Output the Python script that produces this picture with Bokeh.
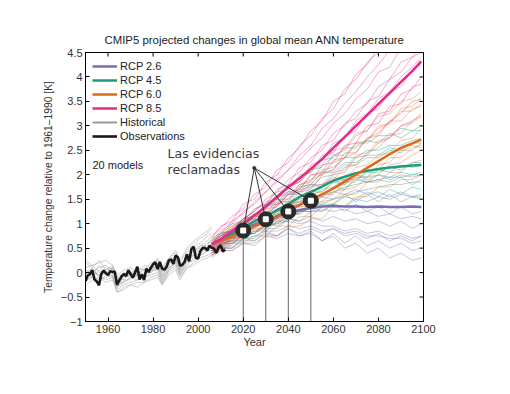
import math
from bokeh.plotting import figure
from bokeh.models import Range1d, LinearAxis, FixedTicker, Legend, LegendItem, Label
from bokeh.embed import file_html
from bokeh.resources import INLINE

# ---------------- data ----------------
obs_years = list(range(1950, 2013))
obs_values = [-0.17, -0.06, -0.03, 0.05, -0.14, -0.18, -0.26, -0.03, 0.04, -0.01,
              -0.05, 0.03, 0.01, 0.02, -0.25, -0.16, -0.08, -0.03, -0.07, 0.05,
              -0.03, -0.10, 0.00, 0.12, -0.14, -0.04, -0.15, 0.08, 0.01, 0.10,
              0.17, 0.21, 0.07, 0.22, 0.08, 0.06, 0.12, 0.25, 0.27, 0.18,
              0.35, 0.31, 0.14, 0.16, 0.22, 0.37, 0.23, 0.48, 0.53, 0.30,
              0.29, 0.44, 0.50, 0.51, 0.45, 0.55, 0.51, 0.49, 0.40, 0.51,
              0.56, 0.43, 0.47]

hist_years = [1950, 1953, 1956, 1959, 1962, 1964, 1967, 1970, 1973, 1976, 1979,
              1982, 1984, 1987, 1990, 1992, 1995, 1998, 2001, 2004, 2006]
hist_members = [
    [-0.10, 0.05, -0.05, 0.10, 0.00, -0.25, -0.10, -0.05, -0.10, 0.00, 0.05, 0.15, -0.05, 0.15, 0.30, 0.10, 0.35, 0.45, 0.50, 0.60, 0.65],
    [0.20, 0.10, 0.25, 0.05, 0.10, -0.15, -0.05, 0.00, 0.05, -0.05, 0.10, 0.20, 0.00, 0.25, 0.35, 0.05, 0.40, 0.55, 0.60, 0.75, 0.80],
    [-0.20, -0.05, -0.15, -0.10, -0.05, -0.35, -0.25, -0.20, -0.15, -0.10, -0.05, 0.00, -0.20, 0.05, 0.15, -0.05, 0.20, 0.25, 0.35, 0.45, 0.45],
    [0.00, -0.10, 0.05, -0.05, 0.05, -0.20, -0.20, -0.10, 0.00, -0.05, 0.10, 0.10, -0.10, 0.10, 0.25, 0.00, 0.25, 0.40, 0.45, 0.50, 0.55],
    [0.10, 0.15, 0.00, 0.05, 0.15, -0.10, 0.00, -0.05, 0.10, 0.05, 0.20, 0.25, 0.05, 0.30, 0.40, 0.20, 0.45, 0.60, 0.70, 0.80, 0.90],
    [-0.15, -0.10, -0.20, -0.05, -0.10, -0.40, -0.30, -0.25, -0.20, -0.20, -0.10, -0.05, -0.25, 0.00, 0.10, -0.10, 0.10, 0.20, 0.30, 0.35, 0.40],
    [0.05, 0.00, 0.10, 0.15, 0.05, -0.10, -0.15, 0.00, -0.05, 0.10, 0.05, 0.20, 0.00, 0.20, 0.25, 0.15, 0.30, 0.35, 0.55, 0.55, 0.70],
    [-0.05, 0.10, -0.10, 0.00, -0.05, -0.30, -0.15, -0.15, -0.05, -0.10, 0.00, 0.10, -0.15, 0.10, 0.20, 0.00, 0.25, 0.35, 0.40, 0.50, 0.60],
    [0.25, 0.15, 0.20, 0.25, 0.15, -0.05, 0.05, 0.10, 0.00, 0.15, 0.10, 0.30, 0.10, 0.30, 0.45, 0.25, 0.50, 0.65, 0.75, 0.85, 0.95],
    [-0.25, -0.15, -0.10, -0.20, -0.15, -0.40, -0.35, -0.25, -0.30, -0.20, -0.15, -0.10, -0.25, -0.05, 0.05, -0.15, 0.10, 0.15, 0.25, 0.30, 0.35],
    [0.05, -0.05, 0.15, 0.00, 0.10, -0.20, -0.05, -0.10, -0.05, 0.05, 0.00, 0.15, -0.10, 0.20, 0.30, 0.05, 0.35, 0.45, 0.55, 0.65, 0.75],
    [-0.10, 0.00, -0.05, -0.15, -0.10, -0.30, -0.20, -0.10, -0.15, -0.05, 0.05, 0.05, -0.20, 0.05, 0.20, -0.05, 0.15, 0.30, 0.35, 0.45, 0.50],
]

proj_years = [2006, 2010, 2015, 2020, 2025, 2030, 2035, 2040, 2045, 2050,
              2055, 2060, 2065, 2070, 2075, 2080, 2085, 2090, 2095, 2099]

rcp85_members = [
    [0.70, 0.95, 1.05, 1.40, 1.50, 1.85, 2.00, 2.35, 2.55, 2.90, 3.10, 3.50, 3.65, 4.05, 4.25, 4.60, 4.80, 5.15, 5.35, 5.60],
    [0.60, 0.80, 1.05, 1.20, 1.45, 1.65, 1.90, 2.10, 2.40, 2.60, 2.95, 3.15, 3.45, 3.70, 4.00, 4.25, 4.55, 4.75, 5.05, 5.20],
    [0.50, 0.75, 0.90, 1.10, 1.25, 1.50, 1.65, 1.90, 2.05, 2.35, 2.50, 2.85, 3.00, 3.30, 3.45, 3.80, 3.95, 4.30, 4.40, 4.65],
    [0.55, 0.60, 0.85, 0.95, 1.15, 1.30, 1.55, 1.65, 1.95, 2.05, 2.40, 2.45, 2.80, 2.90, 3.25, 3.35, 3.70, 3.80, 4.15, 4.25],
    [0.40, 0.60, 0.65, 0.90, 1.00, 1.20, 1.35, 1.60, 1.70, 2.00, 2.05, 2.40, 2.50, 2.80, 2.90, 3.25, 3.30, 3.65, 3.75, 4.00],
    [0.45, 0.50, 0.70, 0.75, 0.95, 1.05, 1.25, 1.40, 1.65, 1.70, 2.00, 2.10, 2.35, 2.45, 2.75, 2.85, 3.10, 3.25, 3.50, 3.55],
    [0.65, 0.85, 1.00, 1.25, 1.40, 1.65, 1.85, 2.10, 2.30, 2.55, 2.75, 3.05, 3.25, 3.55, 3.75, 4.10, 4.20, 4.60, 4.75, 5.00],
    [0.35, 0.50, 0.55, 0.80, 0.80, 1.05, 1.10, 1.35, 1.40, 1.65, 1.75, 2.00, 2.05, 2.35, 2.40, 2.65, 2.75, 3.00, 3.10, 3.25],
    [0.60, 0.70, 0.95, 1.05, 1.30, 1.40, 1.70, 1.80, 2.15, 2.25, 2.60, 2.70, 3.05, 3.15, 3.50, 3.60, 3.95, 4.10, 4.40, 4.50],
    [0.50, 0.65, 0.80, 1.00, 1.10, 1.35, 1.50, 1.75, 1.85, 2.20, 2.30, 2.65, 2.75, 3.10, 3.25, 3.55, 3.70, 4.00, 4.20, 4.40],
    [0.75, 0.90, 1.15, 1.30, 1.60, 1.75, 2.10, 2.25, 2.60, 2.80, 3.15, 3.35, 3.75, 3.95, 4.30, 4.50, 4.85, 5.05, 5.40, 5.55],
    [0.45, 0.55, 0.75, 0.85, 1.05, 1.15, 1.40, 1.50, 1.80, 1.85, 2.20, 2.25, 2.60, 2.65, 3.00, 3.05, 3.40, 3.45, 3.80, 3.85],
]
rcp60_members = [
    [0.60, 0.75, 0.80, 1.00, 1.05, 1.30, 1.35, 1.60, 1.65, 1.90, 2.00, 2.25, 2.35, 2.60, 2.70, 3.00, 3.05, 3.35, 3.40, 3.55],
    [0.50, 0.60, 0.80, 0.80, 1.00, 1.05, 1.25, 1.30, 1.55, 1.60, 1.80, 1.90, 2.15, 2.20, 2.45, 2.55, 2.80, 2.85, 3.10, 3.20],
    [0.45, 0.60, 0.60, 0.80, 0.80, 1.00, 1.00, 1.20, 1.25, 1.40, 1.45, 1.65, 1.70, 1.95, 1.95, 2.20, 2.25, 2.50, 2.50, 2.65],
    [0.40, 0.45, 0.60, 0.60, 0.75, 0.75, 0.95, 0.95, 1.15, 1.15, 1.35, 1.40, 1.60, 1.60, 1.85, 1.85, 2.05, 2.05, 2.25, 2.30],
    [0.65, 0.80, 0.85, 1.10, 1.10, 1.35, 1.45, 1.65, 1.70, 2.00, 2.00, 2.30, 2.35, 2.65, 2.70, 2.95, 3.05, 3.30, 3.30, 3.45],
    [0.35, 0.45, 0.45, 0.60, 0.60, 0.75, 0.75, 0.95, 0.95, 1.10, 1.10, 1.35, 1.35, 1.55, 1.55, 1.75, 1.75, 1.90, 1.90, 2.00],
    [0.55, 0.65, 0.70, 0.90, 0.95, 1.10, 1.15, 1.35, 1.40, 1.60, 1.65, 1.85, 1.90, 2.15, 2.20, 2.40, 2.45, 2.70, 2.75, 2.95],
    [0.70, 0.80, 0.95, 1.10, 1.25, 1.45, 1.50, 1.80, 1.85, 2.10, 2.20, 2.50, 2.55, 2.85, 2.90, 3.20, 3.25, 3.50, 3.55, 3.70],
    [0.55, 0.70, 0.75, 0.95, 1.00, 1.20, 1.25, 1.45, 1.50, 1.75, 1.80, 2.05, 2.10, 2.40, 2.45, 2.70, 2.75, 3.00, 3.05, 3.20],
    [0.45, 0.55, 0.70, 0.70, 0.90, 0.90, 1.10, 1.15, 1.35, 1.35, 1.60, 1.60, 1.85, 1.85, 2.10, 2.10, 2.35, 2.35, 2.55, 2.60],
    [0.60, 0.70, 0.90, 0.95, 1.15, 1.20, 1.45, 1.45, 1.75, 1.80, 2.05, 2.10, 2.45, 2.45, 2.75, 2.80, 3.10, 3.10, 3.35, 3.40],
    [0.50, 0.55, 0.65, 0.75, 0.85, 0.90, 1.05, 1.10, 1.25, 1.30, 1.45, 1.50, 1.70, 1.75, 1.95, 2.00, 2.20, 2.25, 2.40, 2.50],
]
rcp45_members = [
    [0.60, 0.80, 0.85, 1.10, 1.15, 1.40, 1.50, 1.75, 1.85, 2.10, 2.15, 2.40, 2.40, 2.65, 2.65, 2.80, 2.80, 2.95, 2.90, 3.00],
    [0.55, 0.65, 0.85, 0.90, 1.15, 1.15, 1.40, 1.45, 1.70, 1.75, 1.95, 2.00, 2.20, 2.20, 2.35, 2.35, 2.50, 2.45, 2.60, 2.55],
    [0.45, 0.60, 0.65, 0.85, 0.90, 1.10, 1.10, 1.35, 1.35, 1.55, 1.55, 1.75, 1.70, 1.90, 1.85, 2.00, 1.95, 2.05, 2.00, 2.05],
    [0.40, 0.50, 0.65, 0.65, 0.85, 0.85, 1.05, 1.05, 1.25, 1.25, 1.40, 1.40, 1.55, 1.50, 1.65, 1.55, 1.70, 1.60, 1.75, 1.70],
    [0.65, 0.75, 1.00, 1.05, 1.30, 1.40, 1.65, 1.70, 2.00, 2.05, 2.30, 2.35, 2.55, 2.55, 2.70, 2.65, 2.85, 2.75, 2.90, 2.90],
    [0.50, 0.65, 0.70, 0.90, 0.95, 1.15, 1.20, 1.40, 1.45, 1.65, 1.65, 1.85, 1.80, 2.00, 1.95, 2.10, 2.05, 2.20, 2.15, 2.20],
    [0.35, 0.50, 0.50, 0.70, 0.70, 0.90, 0.90, 1.10, 1.05, 1.25, 1.25, 1.40, 1.35, 1.50, 1.45, 1.55, 1.50, 1.60, 1.55, 1.55],
    [0.55, 0.70, 0.85, 0.95, 1.20, 1.20, 1.50, 1.50, 1.75, 1.80, 2.05, 2.05, 2.25, 2.25, 2.40, 2.40, 2.55, 2.50, 2.65, 2.65],
    [0.50, 0.60, 0.75, 0.80, 1.00, 1.05, 1.25, 1.30, 1.50, 1.55, 1.70, 1.75, 1.90, 1.90, 2.05, 2.05, 2.15, 2.10, 2.25, 2.25],
    [0.60, 0.75, 0.90, 1.05, 1.20, 1.30, 1.55, 1.60, 1.80, 1.90, 2.10, 2.15, 2.35, 2.35, 2.50, 2.50, 2.60, 2.60, 2.70, 2.75],
    [0.45, 0.55, 0.60, 0.75, 0.80, 0.95, 1.00, 1.15, 1.20, 1.35, 1.40, 1.50, 1.55, 1.65, 1.70, 1.75, 1.80, 1.80, 1.85, 1.85],
    [0.40, 0.55, 0.70, 0.80, 0.95, 1.05, 1.20, 1.25, 1.40, 1.50, 1.60, 1.65, 1.75, 1.80, 1.85, 1.90, 1.95, 1.95, 2.00, 2.00],
]
rcp26_members = [
    [0.60, 0.75, 0.85, 1.05, 1.10, 1.35, 1.40, 1.60, 1.60, 1.80, 1.75, 1.90, 1.80, 1.95, 1.85, 1.90, 1.85, 1.95, 1.80, 1.90],
    [0.55, 0.65, 0.85, 0.85, 1.10, 1.10, 1.30, 1.30, 1.45, 1.40, 1.55, 1.50, 1.60, 1.45, 1.60, 1.45, 1.60, 1.45, 1.55, 1.50],
    [0.45, 0.60, 0.60, 0.80, 0.80, 1.00, 0.95, 1.10, 1.05, 1.15, 1.05, 1.15, 1.05, 1.10, 1.00, 1.05, 0.95, 1.05, 0.90, 1.00],
    [0.35, 0.50, 0.50, 0.65, 0.65, 0.80, 0.75, 0.90, 0.80, 0.90, 0.80, 0.90, 0.75, 0.80, 0.70, 0.80, 0.65, 0.75, 0.65, 0.75],
    [0.40, 0.50, 0.50, 0.70, 0.65, 0.85, 0.75, 0.90, 0.75, 0.85, 0.65, 0.75, 0.50, 0.60, 0.40, 0.50, 0.30, 0.40, 0.25, 0.30],
    [0.60, 0.80, 0.85, 1.10, 1.15, 1.40, 1.40, 1.65, 1.65, 1.80, 1.80, 1.95, 1.90, 2.00, 1.90, 2.00, 1.90, 2.00, 1.95, 2.00],
    [0.50, 0.65, 0.65, 0.85, 0.90, 1.05, 1.05, 1.20, 1.20, 1.35, 1.25, 1.40, 1.25, 1.40, 1.25, 1.35, 1.20, 1.35, 1.20, 1.25],
    [0.30, 0.45, 0.45, 0.60, 0.55, 0.75, 0.70, 0.80, 0.75, 0.80, 0.65, 0.80, 0.60, 0.75, 0.55, 0.65, 0.50, 0.60, 0.45, 0.50],
    [0.50, 0.60, 0.75, 0.80, 0.95, 1.00, 1.10, 1.15, 1.25, 1.25, 1.30, 1.25, 1.30, 1.20, 1.25, 1.15, 1.20, 1.10, 1.15, 1.10],
    [0.40, 0.50, 0.60, 0.70, 0.75, 0.85, 0.85, 0.95, 0.90, 0.95, 0.85, 0.90, 0.80, 0.85, 0.75, 0.75, 0.70, 0.70, 0.60, 0.65],
    [0.55, 0.70, 0.80, 0.95, 1.05, 1.20, 1.25, 1.40, 1.45, 1.55, 1.55, 1.65, 1.60, 1.70, 1.60, 1.65, 1.55, 1.65, 1.55, 1.60],
    [0.45, 0.55, 0.70, 0.75, 0.85, 0.95, 1.00, 1.05, 1.00, 1.05, 0.95, 0.95, 0.85, 0.90, 0.80, 0.85, 0.75, 0.80, 0.70, 0.75],
]

rcp85_mean = [0.58, 0.68, 0.85, 1.00, 1.17, 1.35, 1.55, 1.75, 1.93, 2.12, 2.32, 2.55, 2.77, 3.00, 3.22, 3.45, 3.67, 3.90, 4.12, 4.32]
rcp60_mean = [0.58, 0.64, 0.74, 0.84, 0.95, 1.05, 1.16, 1.27, 1.38, 1.50, 1.60, 1.72, 1.86, 2.00, 2.14, 2.28, 2.42, 2.55, 2.64, 2.72]
rcp45_mean = [0.58, 0.68, 0.80, 0.92, 1.05, 1.15, 1.28, 1.40, 1.55, 1.65, 1.76, 1.88, 1.96, 2.03, 2.08, 2.12, 2.15, 2.17, 2.19, 2.20]
rcp26_mean = [0.58, 0.66, 0.78, 0.88, 0.98, 1.06, 1.14, 1.22, 1.28, 1.32, 1.35, 1.36, 1.35, 1.35, 1.34, 1.35, 1.34, 1.34, 1.35, 1.34]

highlight_years = [2020, 2030, 2040, 2050]
highlight_values = [0.86, 1.09, 1.25, 1.47]
pointer_year = 2024.9
pointer_value = 2.14

x_min, x_max = 1950, 2100
y_min, y_max = -1, 4.5
x_ticks = [1960, 1980, 2000, 2020, 2040, 2060, 2080, 2100]
y_ticks = [-1, -0.5, 0, 0.5, 1, 1.5, 2, 2.5, 3, 3.5, 4, 4.5]
y_tick_labels = ["\u22121", "\u22120.5", "0", "0.5", "1", "1.5", "2", "2.5", "3", "3.5", "4", "4.5"]

title_text = "CMIP5 projected changes in global mean ANN temperature"
annotation_lines = ["Las evidencias", "reclamadas"]

# colours
C26, C45, C60, C85 = "#7570b3", "#1b9e77", "#e0681c", "#e7298a"
FONT = "Liberation Sans"

# ---------------- figure ----------------
p = figure(width=500, height=386, output_backend="svg", toolbar_location=None,
           x_range=Range1d(x_min, x_max), y_range=Range1d(y_min, y_max),
           x_axis_type=None, y_axis_type=None,
           min_border_left=85, min_border_right=77, min_border_top=52, min_border_bottom=65)
p.xgrid.visible = False
p.ygrid.visible = False
p.outline_line_color = "black"
p.background_fill_color = "white"
p.border_fill_color = "white"

p.title.text = title_text
p.title.align = "center"
p.title.text_font = FONT
p.title.text_font_size = "11.4px"
p.title.text_font_style = "normal"
p.title.text_color = "#222222"
p.title.standoff = 14

xaxis = LinearAxis(ticker=FixedTicker(ticks=x_ticks), axis_label="Year",
                   major_label_overrides={t: str(t) for t in x_ticks})
yaxis = LinearAxis(ticker=FixedTicker(ticks=y_ticks),
                   axis_label="Temperature change relative to 1961\u20131990 [K]",
                   major_label_overrides={t: l for t, l in zip(y_ticks, y_tick_labels)})
p.add_layout(xaxis, "below")
p.add_layout(yaxis, "left")

for ax in [xaxis, yaxis]:
    ax.axis_line_color = "black"
    ax.major_tick_line_color = "black"
    ax.major_tick_in = 4
    ax.major_tick_out = 0
    ax.minor_tick_line_color = None
    ax.major_label_text_font = FONT
    ax.major_label_text_font_size = "11px"
    ax.major_label_text_color = "#333333"
    ax.major_label_standoff = 3
    ax.axis_label_text_font = FONT
    ax.axis_label_text_font_style = "normal"
    ax.axis_label_text_color = "#333333"
xaxis.axis_label_text_font_size = "11px"
xaxis.axis_label_standoff = 0
yaxis.axis_label_text_font_size = "10.3px"
yaxis.axis_label_standoff = 4

# inward ticks on the top and right edges of the box
p.scatter(x_ticks, [y_max] * len(x_ticks), marker="dash", angle=math.pi / 2,
          size=8, line_color="black", line_width=1)
p.scatter([x_max] * len(y_ticks), y_ticks, marker="dash", size=8,
          line_color="black", line_width=1)

# historical models
for m in hist_members:
    p.line(hist_years, m, line_color="#9a9a9a", line_alpha=0.6, line_width=0.8)

# projections (thin)
for members, col in [(rcp26_members, C26), (rcp45_members, C45),
                     (rcp60_members, C60), (rcp85_members, C85)]:
    for m in members:
        p.line(proj_years, m, line_color=col, line_alpha=0.5, line_width=0.8)

# multi-model means
r26 = p.line(proj_years, rcp26_mean, line_color=C26, line_width=2.5)
r45 = p.line(proj_years, rcp45_mean, line_color=C45, line_width=2.5)
r60 = p.line(proj_years, rcp60_mean, line_color=C60, line_width=2.5)
r85 = p.line(proj_years, rcp85_mean, line_color=C85, line_width=2.5)

# observations
robs = p.line(obs_years, obs_values, line_color="#1a1a1a", line_width=2.6)

# legend proxy for historical (no visible data)
rhist = p.line([float("nan")], [float("nan")], line_color="#9a9a9a", line_width=2)

# annotation lines
p.segment(x0=highlight_years, y0=[y_min] * len(highlight_years),
          x1=highlight_years, y1=highlight_values, line_color="#666666", line_width=1)
p.segment(x0=[pointer_year] * len(highlight_years), y0=[pointer_value] * len(highlight_years),
          x1=highlight_years, y1=highlight_values, line_color="#333333", line_width=1)
p.scatter([pointer_year], [pointer_value], size=3, color="#333333")
p.scatter(highlight_years, highlight_values, size=15, color="#2a2a2a")
p.scatter(highlight_years, highlight_values, marker="square", size=5, color="white")

legend = Legend(items=[LegendItem(label="RCP 2.6", renderers=[r26]),
                       LegendItem(label="RCP 4.5", renderers=[r45]),
                       LegendItem(label="RCP 6.0", renderers=[r60]),
                       LegendItem(label="RCP 8.5", renderers=[r85]),
                       LegendItem(label="Historical", renderers=[rhist]),
                       LegendItem(label="Observations", renderers=[robs])],
                location="top_left")
legend.border_line_alpha = 0
legend.background_fill_alpha = 0
legend.label_text_font = FONT
legend.label_text_font_size = "11px"
legend.label_text_color = "#222222"
legend.glyph_width = 25
legend.glyph_height = 14
legend.label_height = 14
legend.spacing = 0
legend.padding = 3
legend.margin = 4
legend.label_standoff = 3
p.add_layout(legend)

# texts
p.add_layout(Label(x=1953.1, y=2.19, text="20 models", text_align="left", text_baseline="alphabetic",
                   text_font=FONT, text_font_size="11px", text_color="#222222"))
p.add_layout(Label(x=1986.4, y=2.44, text=annotation_lines[0], text_align="left",
                   text_baseline="alphabetic", text_font="DejaVu Sans", text_font_size="12.5px",
                   text_color="#3a3a3a"))
p.add_layout(Label(x=1986.4, y=2.11, text=annotation_lines[1], text_align="left",
                   text_baseline="alphabetic", text_font="DejaVu Sans", text_font_size="12.5px",
                   text_color="#3a3a3a"))

open("out.html", "w").write(file_html(p, INLINE))
